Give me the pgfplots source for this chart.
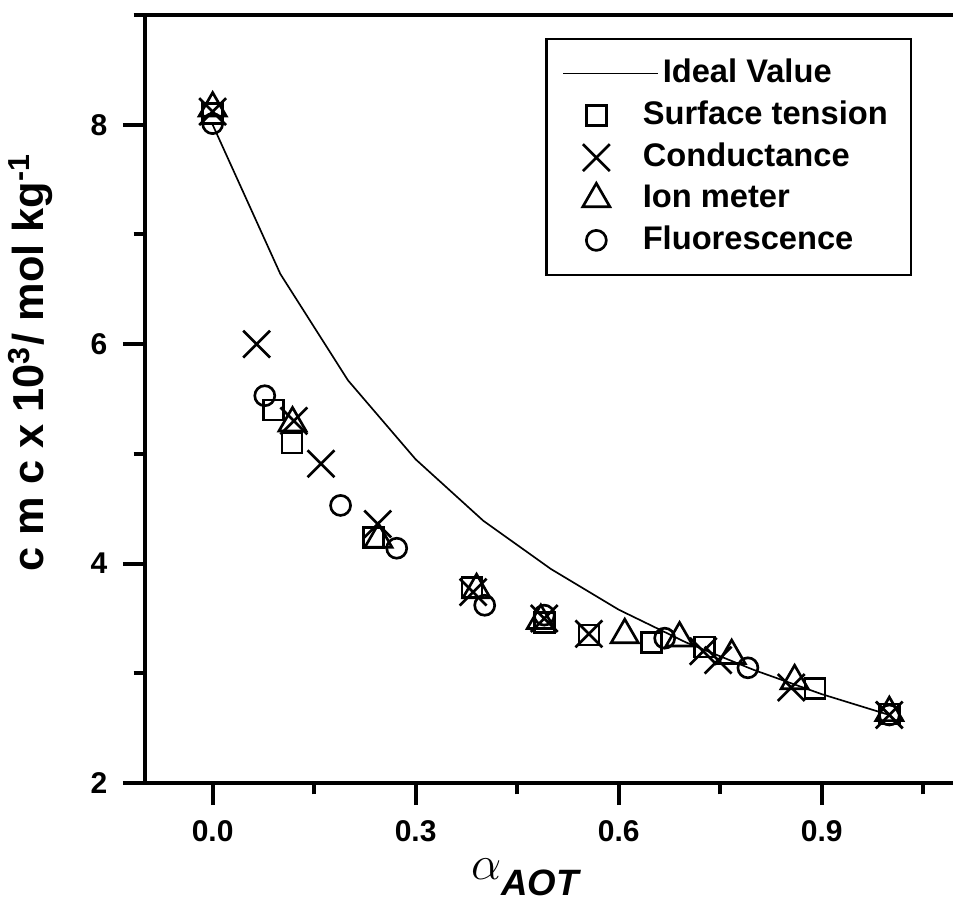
\documentclass[border=0pt]{standalone}
\usepackage{fontspec}
\setmainfont{Liberation Sans}
\usepackage{pgfplots}
\pgfplotsset{compat=1.18}

\begin{document}
\begin{tikzpicture}
\begin{axis}[
    scale only axis,
    width=243.6pt, height=230.4pt,
    xmin=-0.1, xmax=1.1,
    ymin=2, ymax=9,
    axis x line*=bottom, axis y line*=left,
    axis line style={-, line width=1.2pt},
    tick align=outside,
    major tick length=6.6pt, minor tick length=3.4pt,
    every tick/.style={black, line width=1.2pt},
    xtick={0,0.3,0.6,0.9}, xticklabels={0.0,0.3,0.6,0.9},
    minor xtick={0.15,0.45,0.75,1.05},
    ytick={2,4,6,8}, yticklabels={2,4,6,8},
    minor ytick={3,5,7,9},
    tick label style={font=\fontsize{9}{10}\selectfont\bfseries},
    xticklabel style={yshift=-1pt},
    yticklabel style={xshift=-1.2pt},
    xlabel={{\fontsize{15}{16}\selectfont$\alpha$}{\fontsize{11}{12}\selectfont\bfseries\itshape\raisebox{-4.8pt}{AOT}}},
    xlabel style={inner sep=0pt, at={(axis description cs:0.468,-0.0977)}, anchor=north},
    ylabel={c m c x 10\textsuperscript{3}/ mol kg\textsuperscript{-1}},
    ylabel style={font=\fontsize{13}{15}\selectfont\bfseries,
        at={(axis description cs:-0.099,0.548)}, anchor=south},
    legend style={at={(rel axis cs:0.945,0.97)}, anchor=north east,
        draw=black, line width=0.7pt,
        font=\fontsize{9.8}{11}\selectfont\bfseries,
        inner xsep=6pt, inner ysep=5pt,
        nodes={inner sep=1pt},
        /tikz/every odd column/.append style={column sep=4pt},
        row sep=2pt},
    legend cell align=left,
    clip=false,
]

\addplot[black, line width=0.5pt,
    legend image code/.code={
        \path (0cm,0cm) (0.6cm,0cm);
        \draw[overlay,black,line width=0.5pt] (-0.05cm,0cm) -- (0.95cm,0cm);}]
coordinates {
(0.0,8.00) (0.1,6.64) (0.2,5.67) (0.3,4.95) (0.4,4.39) (0.5,3.95)
(0.6,3.58) (0.7,3.28) (0.8,3.03) (0.9,2.81) (1.0,2.62)
};
\addlegendentry{\hspace{6pt}Ideal Value}

\pgfplotsset{mylegend/.style={legend image code/.code={
        \path (0cm,0cm) (0.6cm,0cm);
        \draw[##1] plot coordinates {(0.3cm,0cm)};}}}

\addplot[only marks, mark=square, mark size=3pt, line width=0.8pt, black, mylegend]
coordinates {
(0.0,8.10) (0.090,5.40) (0.117,5.10) (0.238,4.24) (0.383,3.78) (0.490,3.46)
(0.556,3.35) (0.649,3.28) (0.727,3.24) (0.890,2.86) (1.0,2.63)
};
\addlegendentry{Surface tension}

\addplot[only marks, mark=x, mark size=5.7pt, line width=0.8pt, black, mylegend]
coordinates {
(0.0,8.12) (0.065,6.00) (0.120,5.30) (0.160,4.91) (0.244,4.36) (0.385,3.74)
(0.490,3.50) (0.556,3.36) (0.725,3.20) (0.747,3.12) (0.855,2.87) (1.0,2.62)
};
\addlegendentry{Conductance}

\addplot[only marks, mark=triangle, mark size=4.7pt, line width=0.8pt, black, mylegend]
coordinates {
(0.0,8.15) (0.118,5.28) (0.245,4.22) (0.390,3.76) (0.485,3.48) (0.609,3.35)
(0.690,3.32) (0.767,3.16) (0.860,2.93) (1.0,2.64)
};
\addlegendentry{Ion meter}

\addplot[only marks, mark=o, mark size=3pt, line width=0.8pt, black, mylegend]
coordinates {
(0.0,8.01) (0.077,5.53) (0.189,4.53) (0.272,4.14) (0.402,3.62) (0.490,3.53)
(0.668,3.32) (0.791,3.05) (1.0,2.62)
};
\addlegendentry{Fluorescence}

\draw[line width=1.2pt] (rel axis cs:0,1) -- (rel axis cs:1,1);
\coordinate (bl) at (rel axis cs:0,0);
\end{axis}
\pgfresetboundingbox
\path ([xshift=-43.5pt,yshift=-35.1pt]bl) rectangle ([xshift=242.4pt,yshift=234.9pt]bl);
\end{tikzpicture}
\end{document}
